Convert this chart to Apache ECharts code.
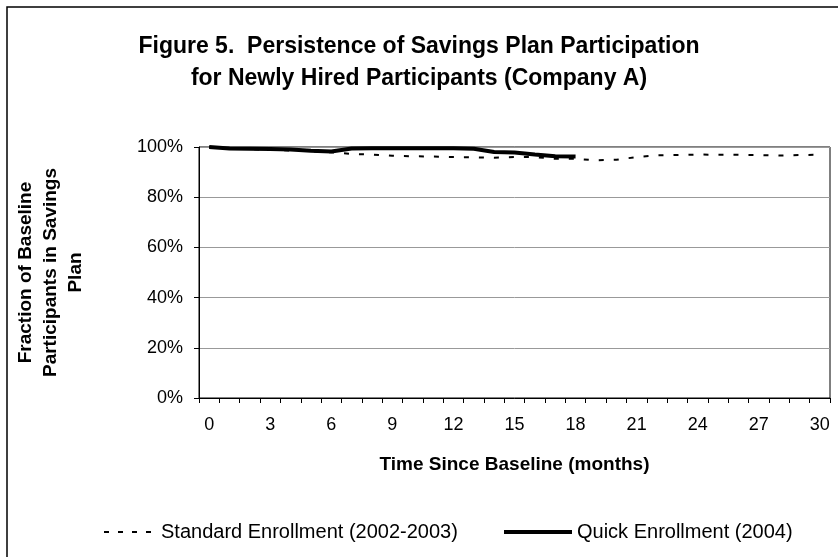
<!DOCTYPE html>
<html>
<head>
<meta charset="utf-8">
<script src="https://cdn.jsdelivr.net/npm/echarts@6/dist/echarts.min.js"></script>
<style>html,body{margin:0;padding:0;background:#fff;}#c{width:838px;height:557px;}</style>
</head>
<body>
<div id="c"></div>
<script>
var months = [];
for (var m = 0; m <= 30; m++) months.push(String(m));
var standardEnrollment = [100, 99.3, 99.1, 98.9, 98.6, 98.3, 97.9, 97.2, 97.0, 96.5, 96.3, 96.2, 96.0, 95.9, 95.7, 96.0, 96.0, 95.3, 95.3, 94.7, 94.9, 96.0, 96.7, 96.8, 97.0, 96.9, 96.9, 96.8, 96.6, 96.8, 96.9];
var quickEnrollment = [100, 99.4, 99.3, 99.2, 99.0, 98.5, 98.2, 99.4, 99.5, 99.5, 99.5, 99.5, 99.5, 99.3, 98.0, 97.8, 97.0, 96.3, 96.2];
var yTicks = [0, 20, 40, 60, 80, 100];

var FONT = 'Liberation Sans, Arial, sans-serif';
var chart = echarts.init(document.getElementById('c'));
var legendText = {fontFamily: FONT, fontSize: 20, color: '#000'};
chart.setOption({
  backgroundColor: '#fff',
  animation: false,
  title: {
    text: 'Figure 5.  Persistence of Savings Plan Participation\nfor Newly Hired Participants (Company A)',
    left: 'center', top: 26,
    textStyle: {fontFamily: FONT, fontSize: 23, fontWeight: 'bold', color: '#000', lineHeight: 32}
  },
  graphic: [{
    type: 'rect', shape: {x: 7, y: 7, width: 900, height: 900},
    style: {fill: 'none', stroke: '#000', lineWidth: 1.5}, silent: true
  }],
  legend: [{
    top: 517, left: 98, itemWidth: 52, itemHeight: 14, itemGap: 0,
    itemStyle: {opacity: 0},
    lineStyle: {width: 2, type: [5, 9], color: '#000'},
    textStyle: legendText,
    data: ['Standard Enrollment (2002-2003)']
  }, {
    top: 517, left: 497, itemWidth: 68, itemHeight: 14, itemGap: 0,
    itemStyle: {opacity: 0},
    lineStyle: {width: 4, color: '#000'},
    textStyle: legendText,
    data: ['Quick Enrollment (2004)']
  }],
  grid: {left: 199, right: 8, top: 147, bottom: 159, show: true, borderColor: '#000', borderWidth: 1},
  xAxis: {
    type: 'category', data: months, boundaryGap: true,
    name: 'Time Since Baseline (months)', nameLocation: 'middle', nameGap: 57,
    nameTextStyle: {fontFamily: FONT, fontSize: 19, fontWeight: 'bold', color: '#000'},
    axisLine: {lineStyle: {color: '#000', width: 1}},
    axisTick: {show: true, interval: 0, length: 5, lineStyle: {color: '#000'}},
    axisLabel: {interval: 2, fontFamily: FONT, fontSize: 18, color: '#000', margin: 18},
    splitLine: {show: false}
  },
  yAxis: {
    type: 'value', min: 0, max: 100, interval: 20,
    name: 'Fraction of Baseline\nParticipants in Savings\nPlan', nameLocation: 'middle', nameRotate: 90, nameGap: 111,
    nameTextStyle: {fontFamily: FONT, fontSize: 19, fontWeight: 'bold', color: '#000', lineHeight: 25},
    axisLine: {show: true, lineStyle: {color: '#000', width: 1}},
    axisTick: {show: true, length: 5, lineStyle: {color: '#000'}},
    axisLabel: {formatter: function (v) { return v + '%'; }, fontFamily: FONT, fontSize: 18, color: '#000', margin: 16},
    splitLine: {show: true, lineStyle: {color: '#999', width: 1}}
  },
  series: [{
    name: 'Standard Enrollment (2002-2003)', type: 'line', data: standardEnrollment,
    symbol: 'none', smooth: false,
    lineStyle: {color: '#000', width: 2, type: [5, 10]}, itemStyle: {color: '#000'}, z: 2
  }, {
    name: 'Quick Enrollment (2004)', type: 'line', data: quickEnrollment,
    symbol: 'none', smooth: false,
    lineStyle: {color: '#000', width: 4}, itemStyle: {color: '#000'}, z: 3
  }]
});
</script>
</body>
</html>
